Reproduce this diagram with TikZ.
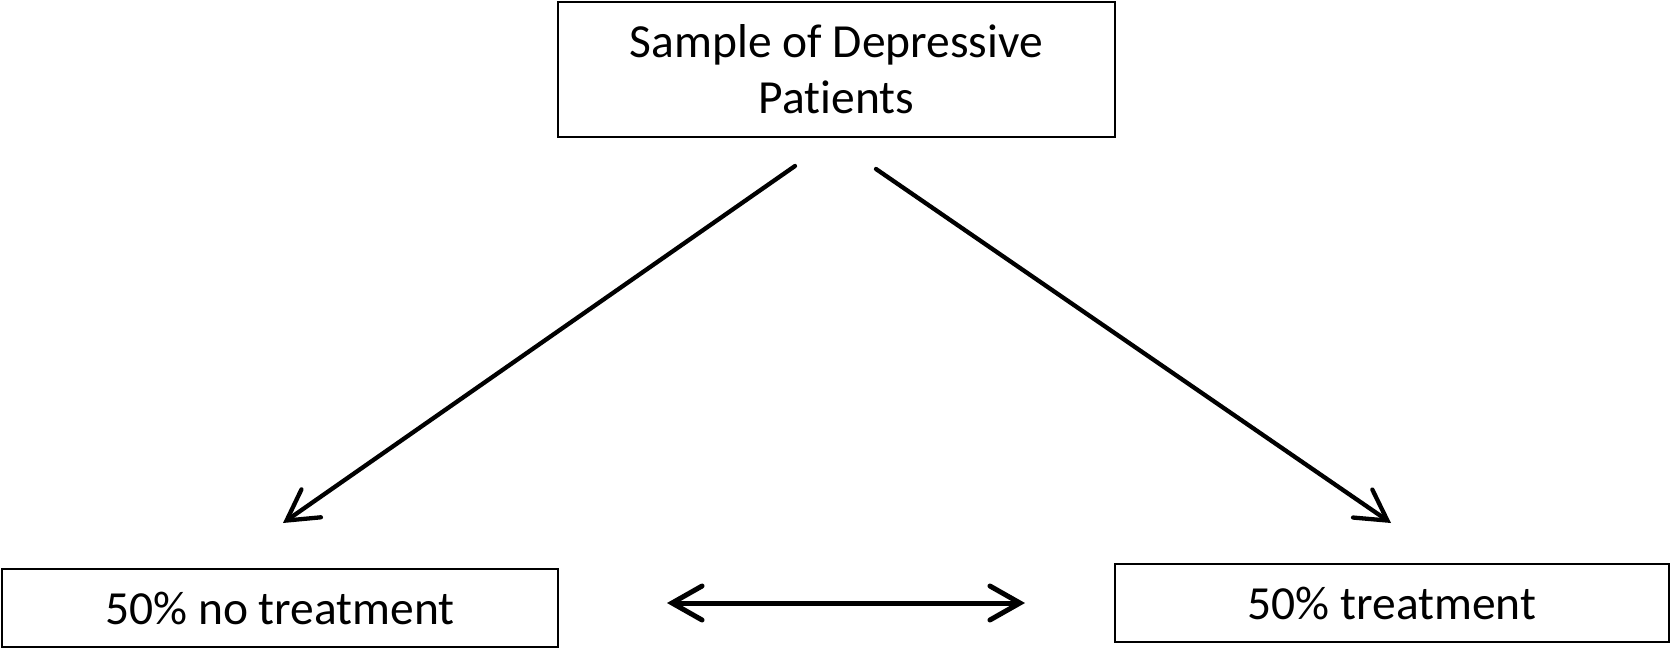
\documentclass[tikz,border=0pt]{standalone}
\usepackage{fontspec}
\setmainfont[Ligatures=NoCommon]{Carlito}
\usetikzlibrary{arrows.meta}
\begin{document}
\begin{tikzpicture}[x=1pt,y=-1pt,
  box/.style={draw=black,line width=1.6pt,minimum width=#1,inner sep=0pt,align=center,
    font=\fontsize{47.5}{56}\selectfont},
  conn/.style={line width=4.3pt,line cap=round,-{Straight Barb[length=30pt,width=34pt,line cap=round]}},
  dconn/.style={line width=5pt,line cap=round,{Straight Barb[length=30pt,width=34pt,line cap=round]}-{Straight Barb[length=30pt,width=34pt,line cap=round]}}]
\useasboundingbox (0,0) rectangle (1671,648);
\node[box=557pt,minimum height=135pt] (top) at (836.5,69.5) {Sample of Depressive\\Patients};
\node[box=556pt,minimum height=78pt] (left) at (280,608) {50\% no treatment};
\node[box=554pt,minimum height=78pt] (right) at (1392,603) {50\% treatment};
\coordinate (ls) at (795,166);
\coordinate (le) at (283,523);
\coordinate (rs) at (876,169);
\coordinate (re) at (1391,523);
\coordinate (ds) at (667,603);
\coordinate (de) at (1025,603);
\draw[conn] (ls) -- (le);
\draw[conn] (rs) -- (re);
\draw[dconn] (ds) -- (de);
\end{tikzpicture}
\end{document}
